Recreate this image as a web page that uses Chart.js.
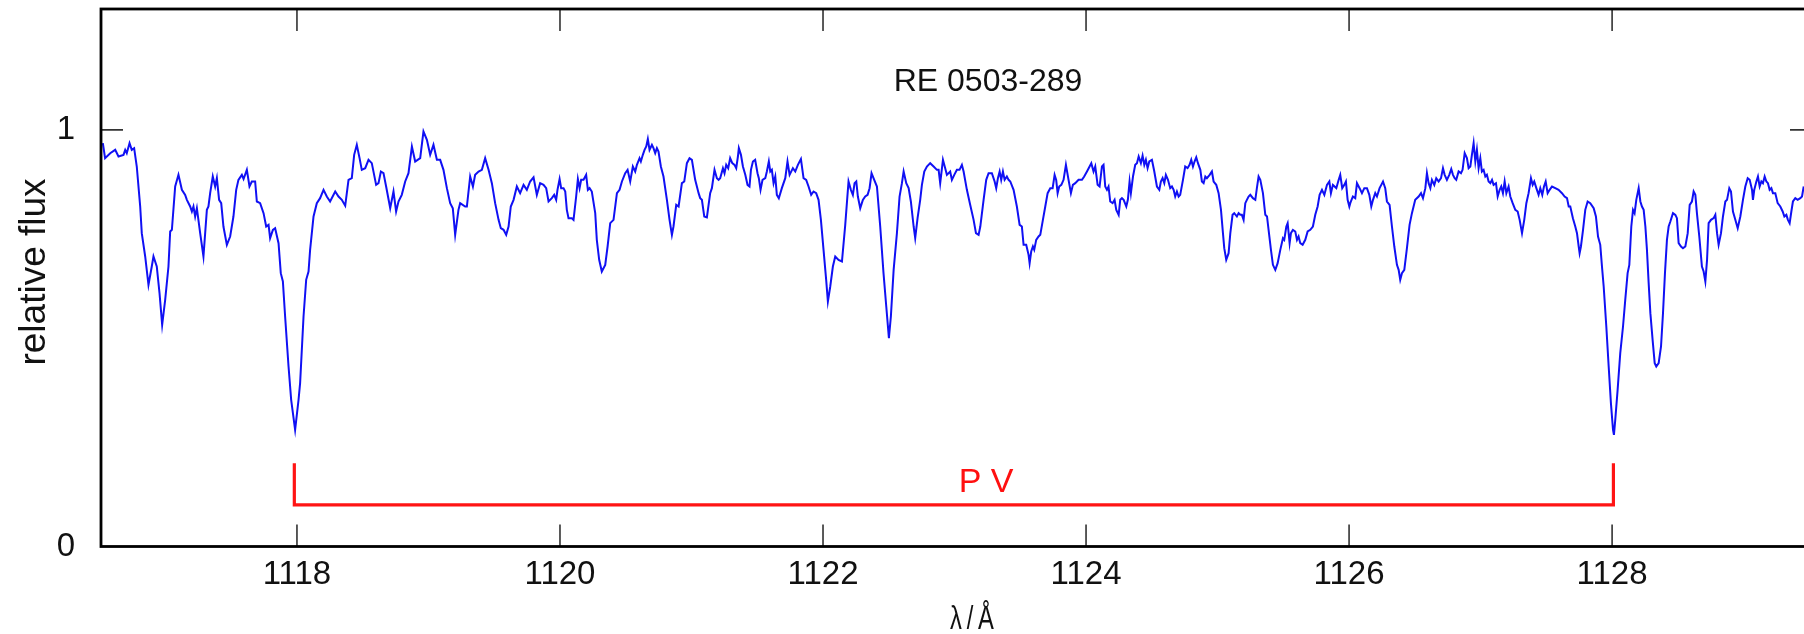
<!DOCTYPE html>
<html>
<head>
<meta charset="utf-8">
<script src="https://cdn.jsdelivr.net/npm/chart.js@4.4.1/dist/chart.umd.min.js"></script>
<style>
  html, body { margin: 0; padding: 0; background: #fff; overflow: hidden; }
  #wrap { width: 1816px; height: 634px; }
</style>
</head>
<body>
<div id="wrap"><canvas id="spec" width="1816" height="634"></canvas></div>
<script>
// RE 0503-289, normalised flux around the P V doublet
const wavelength = [
  1116.524,1116.541,1116.580,1116.618,1116.643,1116.681,1116.694,1116.706,1116.727,1116.744,
  1116.762,1116.782,1116.808,1116.820,1116.846,1116.871,1116.896,1116.909,1116.934,1116.955,
  1116.975,1116.998,1117.023,1117.036,1117.049,1117.074,1117.099,1117.125,1117.150,1117.163,
  1117.188,1117.201,1117.213,1117.226,1117.239,1117.264,1117.289,1117.315,1117.327,1117.340,
  1117.360,1117.378,1117.391,1117.408,1117.424,1117.441,1117.467,1117.492,1117.517,1117.538,
  1117.555,1117.581,1117.594,1117.619,1117.639,1117.657,1117.682,1117.695,1117.720,1117.746,
  1117.766,1117.784,1117.796,1117.817,1117.834,1117.860,1117.877,1117.893,1117.910,1117.936,
  1117.956,1117.986,1118.012,1118.024,1118.050,1118.070,1118.088,1118.100,1118.126,1118.151,
  1118.176,1118.202,1118.227,1118.252,1118.291,1118.316,1118.341,1118.367,1118.392,1118.417,
  1118.435,1118.455,1118.476,1118.493,1118.519,1118.544,1118.569,1118.602,1118.620,1118.638,
  1118.658,1118.678,1118.709,1118.734,1118.754,1118.772,1118.797,1118.823,1118.848,1118.874,
  1118.899,1118.937,1118.962,1118.988,1119.013,1119.038,1119.064,1119.089,1119.114,1119.140,
  1119.165,1119.185,1119.203,1119.228,1119.241,1119.279,1119.292,1119.317,1119.338,1119.355,
  1119.381,1119.406,1119.431,1119.457,1119.482,1119.507,1119.533,1119.550,1119.571,1119.591,
  1119.609,1119.626,1119.647,1119.672,1119.697,1119.723,1119.748,1119.773,1119.799,1119.824,
  1119.849,
  1119.875,1119.895,1119.913,1119.938,1119.956,1119.971,1119.981,1119.997,1120.009,1120.027,
  1120.040,1120.052,1120.065,1120.090,1120.103,1120.123,1120.136,1120.149,1120.161,1120.179,
  1120.199,1120.212,1120.225,1120.242,1120.268,1120.280,1120.298,1120.318,1120.344,1120.362,
  1120.382,1120.407,1120.433,1120.453,1120.471,1120.496,1120.514,1120.534,1120.554,1120.572,
  1120.585,1120.605,1120.615,1120.630,1120.643,1120.656,1120.668,1120.681,1120.699,1120.711,
  1120.724,1120.737,1120.749,1120.767,1120.787,1120.813,1120.833,1120.851,1120.863,1120.884,
  1120.902,1120.927,1120.945,1120.965,1120.985,1121.003,1121.028,1121.054,1121.066,1121.079,
  1121.097,1121.117,1121.142,1121.155,1121.175,1121.193,1121.206,1121.218,1121.239,1121.251,
  1121.264,1121.279,1121.294,1121.310,1121.327,1121.340,1121.353,1121.360,1121.376,1121.391,
  1121.409,1121.426,1121.441,1121.452,1121.467,1121.484,1121.502,1121.512,1121.525,1121.540,
  1121.561,1121.573,1121.588,1121.599,1121.611,1121.624,1121.637,1121.649,1121.664,1121.687,
  1121.713,1121.730,1121.746,1121.771,1121.789,1121.809,1121.832,1121.852,1121.872,1121.890,
  1121.910,1121.928,1121.948,1121.966,1121.984,1122.004,1122.024,1122.037,1122.055,1122.075,
  1122.093,1122.118,1122.144,1122.169,1122.194,1122.212,1122.227,1122.240,1122.253,1122.265,
  1122.283,1122.303,1122.321,1122.339,1122.354,1122.369,1122.384,1122.410,1122.435,1122.460,
  1122.481,1122.501,1122.516,1122.537,1122.562,1122.582,1122.600,1122.613,1122.633,1122.651,
  1122.668,1122.689,1122.701,1122.719,1122.739,1122.752,1122.770,1122.790,1122.815,1122.841,
  1122.866,1122.879,1122.891,1122.912,1122.929,1122.942,1122.967,
  1122.980,1122.998,1123.018,1123.038,1123.056,1123.069,1123.094,1123.119,1123.145,1123.163,
  1123.183,1123.196,1123.221,1123.241,1123.259,1123.284,1123.305,1123.317,1123.330,1123.343,
  1123.355,1123.368,1123.381,1123.398,1123.411,1123.424,1123.449,1123.474,1123.495,1123.512,
  1123.525,1123.545,1123.563,1123.571,1123.583,1123.596,1123.606,1123.621,1123.639,1123.652,
  1123.672,1123.690,1123.708,1123.728,1123.746,1123.761,1123.773,1123.784,1123.796,1123.812,
  1123.829,1123.847,1123.867,1123.885,1123.900,1123.918,1123.943,1123.969,1123.986,1124.007,
  1124.027,1124.040,1124.057,1124.070,1124.088,1124.103,1124.121,1124.133,1124.146,1124.159,
  1124.171,1124.184,1124.202,1124.217,1124.230,1124.248,1124.260,1124.273,1124.286,1124.306,
  1124.318,1124.331,1124.341,1124.357,1124.374,1124.387,1124.400,1124.417,1124.430,1124.443,
  1124.455,1124.468,1124.481,1124.501,1124.519,1124.539,1124.557,1124.569,1124.582,1124.595,
  1124.607,1124.623,1124.640,1124.653,1124.666,1124.678,1124.691,1124.704,1124.716,1124.737,
  1124.754,1124.772,1124.787,1124.800,1124.813,1124.825,1124.838,1124.851,1124.869,1124.881,
  1124.894,1124.907,1124.919,1124.940,1124.957,1124.970,1124.990,1125.008,1125.026,1125.041,
  1125.051,1125.066,1125.084,1125.097,1125.114,1125.127,1125.147,1125.160,1125.173,1125.185,
  1125.198,1125.211,1125.223,1125.236,1125.249,1125.269,1125.287,1125.299,1125.312,1125.325,
  1125.345,1125.363,1125.376,1125.388,1125.406,1125.421,1125.439,1125.457,1125.477,1125.497,
  1125.507,1125.523,1125.533,1125.548,1125.558,1125.573,1125.591,1125.604,1125.616,1125.629,
  1125.647,1125.667,1125.685,1125.705,1125.725,1125.743,1125.761,1125.776,1125.794,1125.812,
  1125.832,1125.850,1125.862,1125.877,1125.890,1125.903,1125.921,1125.933,1125.948,1125.964,
  1125.976,1125.989,1126.002,1126.009,
  1126.029,1126.047,1126.060,1126.080,1126.098,1126.116,1126.136,1126.154,1126.169,1126.182,
  1126.199,1126.212,1126.232,1126.245,1126.258,1126.275,1126.288,1126.308,1126.326,1126.344,
  1126.364,1126.377,1126.389,1126.402,1126.420,1126.440,1126.460,1126.478,1126.503,1126.529,
  1126.547,1126.562,1126.580,1126.592,1126.605,1126.618,1126.630,1126.648,1126.663,1126.681,
  1126.699,1126.714,1126.727,1126.744,1126.762,1126.777,1126.790,1126.803,1126.815,1126.833,
  1126.851,1126.863,1126.879,1126.896,1126.909,1126.922,1126.934,1126.947,1126.960,1126.972,
  1126.985,1126.998,1127.010,1127.023,1127.036,1127.048,1127.061,1127.074,1127.087,1127.099,
  1127.117,1127.130,1127.145,1127.157,1127.170,1127.183,1127.196,1127.213,1127.226,1127.244,
  1127.264,1127.282,1127.297,1127.315,1127.332,1127.348,1127.365,1127.383,1127.396,1127.408,
  1127.424,1127.441,1127.454,1127.469,1127.482,1127.495,1127.510,1127.525,1127.543,1127.568,
  1127.593,1127.619,1127.639,1127.657,1127.670,1127.682,1127.702,1127.720,1127.733,1127.746,
  1127.753,1127.763,1127.779,1127.796,1127.814,1127.834,1127.860,1127.877,1127.893,1127.910,
  1127.923,1127.936,1127.956,1127.974,1127.991,1128.007,1128.014,1128.024,1128.042,1128.062,
  1128.083,1128.100,1128.118,1128.131,1128.146,1128.159,1128.171,1128.184,1128.202,1128.215,
  1128.227,1128.240,1128.253,1128.265,1128.278,1128.291,1128.308,1128.324,1128.336,1128.354,
  1128.372,1128.387,1128.402,1128.417,1128.430,1128.443,1128.463,1128.481,1128.493,1128.506,
  1128.524,1128.539,1128.557,1128.575,1128.590,1128.607,1128.620,1128.633,1128.645,1128.663,
  1128.683,1128.696,1128.709,1128.722,1128.734,1128.752,1128.772,1128.785,1128.798,1128.810,
  1128.828,1128.843,1128.861,1128.874,1128.891,1128.904,1128.919,1128.937,1128.955,1128.975,
  1128.995,1129.013,1129.031,1129.046,1129.064,1129.071,1129.081,1129.097,1129.109,1129.122,
  1129.135,1129.147,1129.160,1129.173,1129.185,1129.198,1129.211,1129.223,1129.241,1129.259,
  1129.279,1129.297,1129.310,1129.325,1129.337,1129.350,1129.363,1129.375,1129.393,1129.411,
  1129.431,1129.444,1129.457
];

const flux = [
  0.968,0.932,0.944,0.952,0.936,0.940,0.952,0.944,0.968,0.952,
  0.956,0.912,0.816,0.752,0.696,0.628,0.672,0.696,0.672,0.608,
  0.532,0.592,0.672,0.756,0.760,0.864,0.892,0.856,0.844,0.832,
  0.816,0.804,0.816,0.792,0.812,0.752,0.696,0.808,0.816,0.848,
  0.888,0.864,0.884,0.832,0.824,0.768,0.724,0.744,0.792,0.856,
  0.880,0.892,0.882,0.904,0.864,0.876,0.876,0.828,0.824,0.800,
  0.768,0.772,0.740,0.760,0.764,0.728,0.656,0.636,0.552,0.432,
  0.352,0.280,0.352,0.392,0.552,0.640,0.660,0.712,0.792,0.824,
  0.836,0.856,0.840,0.828,0.852,0.840,0.832,0.818,0.880,0.884,
  0.940,0.964,0.932,0.904,0.908,0.928,0.920,0.868,0.872,0.900,
  0.896,0.864,0.812,0.852,0.804,0.828,0.844,0.876,0.896,0.960,
  0.924,0.932,0.996,0.976,0.940,0.964,0.928,0.928,0.904,0.860,
  0.824,0.812,0.748,0.808,0.824,0.816,0.816,0.888,0.864,0.892,
  0.900,0.904,0.932,0.904,0.872,0.824,0.784,0.764,0.760,0.748,
  0.768,0.816,0.832,0.864,0.848,0.868,0.856,0.876,0.886,0.844,
  0.872,
  0.868,0.860,0.828,0.836,0.844,0.832,0.856,0.882,0.860,0.860,
  0.852,0.808,0.788,0.788,0.784,0.840,0.882,0.860,0.880,0.880,
  0.892,0.856,0.860,0.852,0.800,0.736,0.688,0.660,0.676,0.720,
  0.776,0.784,0.848,0.856,0.876,0.896,0.904,0.876,0.912,0.900,
  0.916,0.932,0.924,0.940,0.952,0.960,0.978,0.952,0.964,0.956,
  0.944,0.956,0.948,0.912,0.888,0.832,0.784,0.748,0.768,0.820,
  0.816,0.872,0.876,0.920,0.932,0.928,0.880,0.848,0.836,0.832,
  0.792,0.790,0.848,0.860,0.904,0.884,0.880,0.884,0.908,0.896,
  0.916,0.908,0.932,0.920,0.916,0.908,0.936,0.956,0.940,0.912,
  0.892,0.868,0.864,0.904,0.924,0.928,0.896,0.884,0.856,0.880,
  0.884,0.900,0.924,0.900,0.904,0.872,0.888,0.844,0.836,0.860,
  0.884,0.924,0.892,0.908,0.900,0.916,0.930,0.884,0.880,0.864,
  0.844,0.852,0.848,0.832,0.784,0.712,0.640,0.588,0.624,0.672,
  0.696,0.688,0.684,0.772,0.876,0.856,0.844,0.872,0.876,0.840,
  0.812,0.832,0.840,0.844,0.860,0.896,0.884,0.864,0.768,0.656,
  0.576,0.500,0.552,0.664,0.752,0.840,0.872,0.900,0.872,0.860,
  0.828,0.768,0.740,0.788,0.832,0.868,0.900,0.912,0.920,0.912,
  0.904,0.904,0.872,0.928,0.908,0.892,0.900,
  0.880,0.892,0.904,0.904,0.916,0.900,0.856,0.820,0.784,0.752,
  0.748,0.768,0.832,0.880,0.896,0.896,0.876,0.860,0.884,0.900,
  0.880,0.900,0.880,0.888,0.880,0.876,0.856,0.816,0.772,0.768,
  0.724,0.724,0.700,0.680,0.708,0.720,0.712,0.736,0.744,0.748,
  0.784,0.816,0.848,0.860,0.860,0.892,0.880,0.848,0.864,0.868,
  0.880,0.916,0.880,0.848,0.868,0.872,0.880,0.880,0.888,0.900,
  0.912,0.920,0.900,0.912,0.868,0.864,0.912,0.916,0.864,0.856,
  0.864,0.828,0.824,0.832,0.808,0.796,0.832,0.836,0.832,0.816,
  0.832,0.876,0.848,0.888,0.916,0.920,0.936,0.920,0.938,0.916,
  0.928,0.908,0.924,0.928,0.900,0.864,0.856,0.876,0.884,0.872,
  0.892,0.880,0.860,0.864,0.856,0.840,0.852,0.840,0.844,0.880,
  0.912,0.908,0.916,0.928,0.912,0.924,0.934,0.920,0.904,0.876,
  0.872,0.888,0.884,0.892,0.900,0.876,0.868,0.848,0.808,0.752,
  0.716,0.688,0.704,0.752,0.796,0.800,0.792,0.800,0.796,0.796,
  0.784,0.824,0.832,0.840,0.844,0.836,0.832,0.860,0.888,0.880,
  0.848,0.796,0.792,0.760,0.712,0.676,0.664,0.680,0.712,0.740,
  0.736,0.768,0.776,0.728,0.752,0.760,0.756,0.736,0.744,0.728,
  0.724,0.736,0.756,0.760,0.768,0.796,0.816,0.844,0.856,0.844,
  0.868,0.876,0.848,0.868,0.864,0.860,0.880,0.892,0.860,0.868,
  0.876,0.832,0.816,0.824,
  0.840,0.836,0.872,0.860,0.848,0.860,0.860,0.844,0.816,0.832,
  0.848,0.840,0.860,0.868,0.876,0.860,0.828,0.820,0.768,0.720,
  0.676,0.664,0.640,0.656,0.664,0.716,0.772,0.800,0.832,0.840,
  0.848,0.836,0.860,0.896,0.872,0.860,0.880,0.868,0.884,0.876,
  0.884,0.908,0.892,0.880,0.892,0.906,0.892,0.884,0.880,0.900,
  0.896,0.904,0.944,0.932,0.908,0.912,0.940,0.968,0.924,0.952,
  0.908,0.932,0.900,0.904,0.888,0.892,0.876,0.872,0.880,0.868,
  0.872,0.840,0.856,0.864,0.848,0.876,0.848,0.864,0.840,0.824,
  0.808,0.804,0.784,0.752,0.784,0.824,0.848,0.884,0.868,0.876,
  0.860,0.844,0.860,0.844,0.864,0.876,0.848,0.856,0.864,0.860,
  0.856,0.848,0.840,0.836,0.816,0.816,0.788,0.768,0.752,0.720,
  0.704,0.720,0.760,0.808,0.828,0.824,0.812,0.792,0.744,0.724,
  0.672,0.624,0.528,0.432,0.344,0.280,0.268,0.304,0.376,0.464,
  0.528,0.592,0.656,0.676,0.768,0.808,0.800,0.832,0.860,0.828,
  0.816,0.808,0.768,0.712,0.632,0.560,0.496,0.440,0.432,0.440,
  0.480,0.560,0.656,0.736,0.768,0.780,0.800,0.796,0.788,0.728,
  0.720,0.716,0.720,0.752,0.820,0.828,0.852,0.844,0.800,0.744,
  0.672,0.660,0.636,0.688,0.776,0.784,0.788,0.796,0.752,0.724,
  0.752,0.792,0.828,0.832,0.860,0.852,0.804,0.784,0.764,0.792,
  0.832,0.864,0.884,0.880,0.856,0.832,0.856,0.876,0.888,0.864,
  0.876,0.872,0.888,0.876,0.872,0.856,0.860,0.848,0.848,0.824,
  0.816,0.804,0.792,0.796,0.784,0.776,0.804,0.828,0.836,0.832,
  0.836,0.840,0.864
];

// P V doublet marker (bracket drawn as a line)
const pvWave = [1117.98, 1117.98, 1128.01, 1128.01];
const pvLevel = [0.2, 0.1, 0.1, 0.2];

const xTicks = [1118, 1120, 1122, 1124, 1126, 1128];
const yTicks = [0, 1];
const xRange = [1116.51, 1129.52];
const yRange = [0, 1.29];

const FONT = '"Liberation Sans", Arial, sans-serif';
const TICK_LEN = 22;

const framePlugin = {
  id: "frame",
  afterDatasetsDraw(chart){
    const { ctx, chartArea: a, scales: { x, y } } = chart;
    ctx.save();

    // inward ticks, bottom/top and left/right
    ctx.strokeStyle = "#333";
    ctx.lineWidth = 1.6;
    ctx.beginPath();
    xTicks.forEach((v) => {
      const px = x.getPixelForValue(v);
      ctx.moveTo(px, a.bottom); ctx.lineTo(px, a.bottom - TICK_LEN);
      ctx.moveTo(px, a.top); ctx.lineTo(px, a.top + TICK_LEN);
    });
    yTicks.forEach((v) => {
      if(v === 0) return;
      const py = y.getPixelForValue(v);
      ctx.moveTo(a.left, py); ctx.lineTo(a.left + TICK_LEN, py);
      ctx.moveTo(a.right, py); ctx.lineTo(a.right - TICK_LEN, py);
    });
    ctx.stroke();

    // frame
    ctx.strokeStyle = "#000";
    ctx.lineWidth = 2.8;
    ctx.strokeRect(a.left, a.top, a.right - a.left, a.bottom - a.top);

    // texts
    ctx.fillStyle = "#111";
    ctx.textAlign = "center";
    ctx.textBaseline = "alphabetic";
    ctx.font = `32px ${FONT}`;
    ctx.fillText("RE 0503-289", 988, 91);

    // axis unit label is set condensed in the original
    ctx.save();
    ctx.translate(972, 629);
    ctx.scale(0.72, 1);
    ctx.font = `33px ${FONT}`;
    ctx.fillText("λ\u2009/\u2009Å", 0, 0);
    ctx.restore();

    ctx.save();
    ctx.translate(45, 272);
    ctx.rotate(-Math.PI / 2);
    ctx.font = `37px ${FONT}`;
    ctx.fillText("relative flux", 0, 0);
    ctx.restore();

    ctx.fillStyle = "#ff1010";
    ctx.font = `34px ${FONT}`;
    ctx.fillText("P V", x.getPixelForValue(1123.24), y.getPixelForValue(0.131));

    ctx.restore();
  }
};

const spectrum = wavelength.map((w, i) => ({ x: w, y: flux[i] }));
const pvMarker = pvWave.map((w, i) => ({ x: w, y: pvLevel[i] }));

new Chart(document.getElementById("spec").getContext("2d"), {
  type: "scatter",
  data: {
    datasets: [
      {
        label: "RE 0503-289",
        data: spectrum,
        showLine: true,
        borderColor: "#1010f4",
        borderWidth: 2,
        pointRadius: 0,
        tension: 0
      },
      {
        label: "P V",
        data: pvMarker,
        showLine: true,
        borderColor: "#ff1414",
        borderWidth: 3.2,
        pointRadius: 0,
        tension: 0,
        borderJoinStyle: "miter"
      }
    ]
  },
  options: {
    responsive: false,
    animation: false,
    layout: { padding: { top: 9, right: 4, left: 0, bottom: 0 } },
    plugins: { legend: { display: false }, tooltip: { enabled: false } },
    scales: {
      x: {
        type: "linear",
        min: xRange[0],
        max: xRange[1],
        afterBuildTicks: (s) => { s.ticks = xTicks.map((v) => ({ value: v })); },
        afterFit: (s) => { s.height = 87.5; s.paddingLeft = 0; s.paddingRight = 0; },
        grid: { display: false, drawTicks: false },
        border: { display: false },
        ticks: {
          autoSkip: false,
          maxRotation: 0,
          padding: 9,
          color: "#111",
          font: { family: FONT, size: 33 },
          callback: (v) => String(v)
        }
      },
      y: {
        min: yRange[0],
        max: yRange[1],
        afterBuildTicks: (s) => { s.ticks = yTicks.map((v) => ({ value: v })); },
        afterFit: (s) => { s.width = 101; s.paddingTop = 0; s.paddingBottom = 0; },
        grid: { display: false, drawTicks: false },
        border: { display: false },
        ticks: {
          padding: 26,
          color: "#111",
          font: { family: FONT, size: 33 },
          callback: (v) => String(v)
        }
      }
    }
  },
  plugins: [framePlugin]
});
</script>
</body>
</html>
